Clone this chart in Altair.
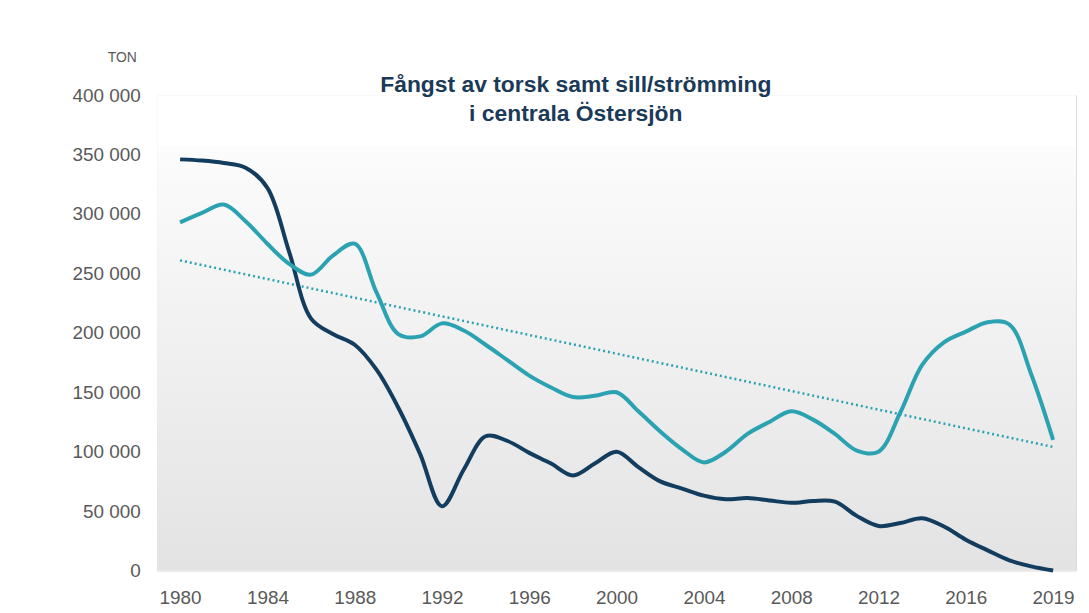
import altair as alt
import pandas as pd

# ---- data ----
x_labels = ["1980", "1984", "1988", "1992", "1996", "2000", "2004", "2008", "2012", "2016", "2019"]
period = list(range(41))
torsk = [346000, 345000, 343000, 339000, 322000, 268000, 212000, 199000, 190000, 169000,
         137000, 98000, 54000, 85000, 113000, 109000, 99000, 90000, 80000, 90000,
         100000, 87000, 75000, 69000, 63000, 60000, 61000, 59000, 57000, 58500,
         58000, 46000, 37500, 40000, 44000, 37000, 26000, 17000, 8500, 3500, 0]
sill = [293000, 301000, 308000, 294000, 275000, 258000, 249000, 265000, 275000, 234000,
        199000, 197000, 208000, 202000, 190000, 177000, 164000, 154000, 146000, 147000,
        150000, 134000, 117000, 102000, 91000, 100000, 115000, 125000, 134000, 127000,
        115000, 101000, 100000, 133000, 173000, 192000, 201000, 209000, 207000, 165000, 110000]
trend_period = [0, 40]
trend_values = [261000, 104000]

series_names = ["Torsk", "Sill/strömming"]
series_colors = ["#123d5f", "#2ba2b2"]

W, H = 924, 478

df = pd.DataFrame({
    "period": period * 2,
    "ton": torsk + sill,
    "serie": [series_names[0]] * len(period) + [series_names[1]] * len(period),
})
df_trend = pd.DataFrame({"period": trend_period, "ton": trend_values})
df_bg = pd.DataFrame({"bg": [1]})

label_js = "[" + ",".join(f"'{s}'" for s in x_labels) + "]"

x_enc = alt.X(
    "period:Q",
    scale=alt.Scale(domain=[-1.05, 41.05], nice=False, zero=False),
    axis=alt.Axis(
        values=[i * 4 for i in range(len(x_labels))],
        labelExpr=f"{label_js}[round(datum.value / 4)]",
        title=None, grid=False, ticks=False, domain=False,
        labelFont="Liberation Sans", labelFontSize=19, labelColor="#595959",
        labelPadding=18, labelFlush=False,
    ),
)
y_enc = alt.Y(
    "ton:Q",
    scale=alt.Scale(domain=[0, 400000], nice=False),
    axis=alt.Axis(
        values=list(range(0, 400001, 50000)),
        labelExpr="replace(format(datum.value, ',d'), ',', ' ')",
        title="TON", titleAngle=0, titleAlign="right", titleBaseline="alphabetic",
        titleX=-21, titleY=-34, titleFont="Liberation Sans", titleFontSize=14,
        titleFontWeight="normal", titleColor="#595959",
        grid=False, ticks=False, domain=False,
        labelFont="Liberation Sans", labelFontSize=19, labelColor="#595959",
        labelPadding=17,
    ),
)

gradient = alt.LinearGradient(
    gradient="linear", x1=0, x2=0, y1=0, y2=1,
    stops=[
        alt.GradientStop(color="#ffffff", offset=0),
        alt.GradientStop(color="#ffffff", offset=0.105),
        alt.GradientStop(color="#fcfcfc", offset=0.107),
        alt.GradientStop(color="#e3e3e3", offset=1),
    ],
)

background = alt.Chart(df_bg).mark_rect(color=gradient).encode(
    x=alt.value(0), x2=alt.value(W), y=alt.value(0), y2=alt.value(H)
)

lines = alt.Chart(df).mark_line(strokeWidth=4, interpolate="catmull-rom").encode(
    x=x_enc,
    y=y_enc,
    color=alt.Color("serie:N", scale=alt.Scale(domain=series_names, range=series_colors), legend=None),
)

trend = alt.Chart(df_trend).mark_line(strokeWidth=2.5, strokeDash=[2, 3], color=series_colors[1]).encode(
    x="period:Q", y="ton:Q"
)

chart = alt.layer(background, trend, lines).properties(
    width=W,
    height=H,
    autosize=alt.AutoSizeParams(type="none"),
    padding={"left": 150, "top": 86, "right": 5, "bottom": 38},
    title=alt.TitleParams(
        text=["Fångst av torsk samt sill/strömming", "i centrala Östersjön"],
        font="Liberation Sans", fontSize=23, fontWeight="bold", color="#1b3a57",
        anchor="middle", frame="group", dx=-41, lineHeight=29, baseline="top", offset=0, dy=76,
    ),
).configure_view(stroke=None).configure(background="white")

chart.save("out.html", embed_options={"renderer": "svg", "actions": False})
